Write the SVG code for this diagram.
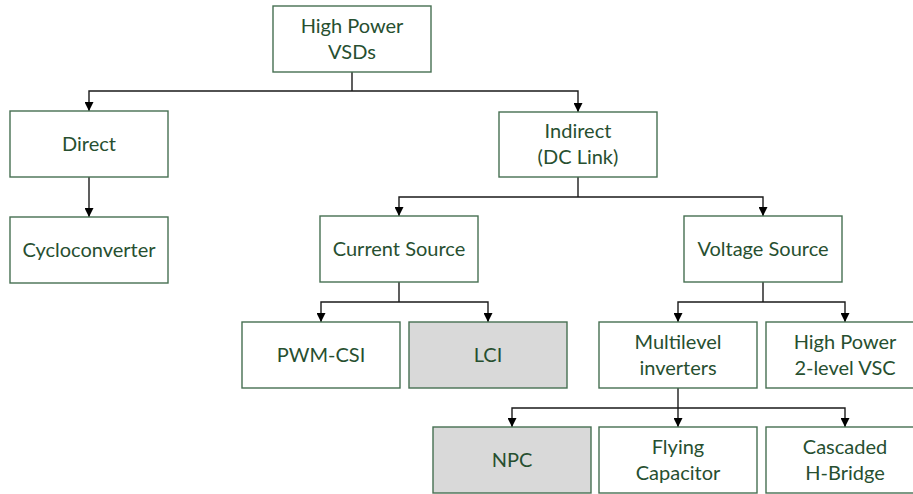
<svg xmlns="http://www.w3.org/2000/svg" width="913" height="494" viewBox="0 0 913 494">
<style>
.box{fill:#ffffff;stroke:#466f52;stroke-width:1.4}
.gray{fill:#d9d9d9}
.t{font-family:Lato,"Liberation Sans",sans-serif;font-size:20px;fill:#274f30;text-anchor:middle}
.c{fill:none;stroke:#1a1a1a;stroke-width:1.4}
</style>
<defs>
<marker id="ah" viewBox="0 0 10 10" refX="10" refY="5" markerWidth="10" markerHeight="9" markerUnits="userSpaceOnUse" orient="auto">
<path d="M0,0 L10,5 L0,10 z" fill="#000"/>
</marker>
</defs>
<rect width="913" height="494" fill="#ffffff"/>
<g id="connectors">
<path class="c" d="M352,72 V91"/>
<path class="c" d="M352,91 H89 V111" marker-end="url(#ah)"/>
<path class="c" d="M352,91 H578 V112" marker-end="url(#ah)"/>
<path class="c" d="M89,177 V217" marker-end="url(#ah)"/>
<path class="c" d="M578,177 V197"/>
<path class="c" d="M578,197 H399 V216" marker-end="url(#ah)"/>
<path class="c" d="M578,197 H763 V216" marker-end="url(#ah)"/>
<path class="c" d="M399,282 V302"/>
<path class="c" d="M399,302 H321 V322" marker-end="url(#ah)"/>
<path class="c" d="M399,302 H488 V322" marker-end="url(#ah)"/>
<path class="c" d="M763,282 V302"/>
<path class="c" d="M763,302 H678 V322" marker-end="url(#ah)"/>
<path class="c" d="M763,302 H845 V322" marker-end="url(#ah)"/>
<path class="c" d="M678,388 V427" marker-end="url(#ah)"/>
<path class="c" d="M678,408 H512 V427" marker-end="url(#ah)"/>
<path class="c" d="M678,408 H845 V427" marker-end="url(#ah)"/>
</g>
<g id="n-vsds"><rect class="box" x="273" y="6" width="158" height="66"/><text class="t" x="352" y="33">High Power</text><text class="t" x="352" y="59">VSDs</text></g>
<g id="n-direct"><rect class="box" x="10" y="111" width="158" height="66"/><text class="t" x="89" y="151">Direct</text></g>
<g id="n-cyclo"><rect class="box" x="10" y="217" width="158" height="66"/><text class="t" x="89" y="257">Cycloconverter</text></g>
<g id="n-indirect"><rect class="box" x="499" y="112" width="158" height="65"/><text class="t" x="578" y="138">Indirect</text><text class="t" x="578" y="164">(DC Link)</text></g>
<g id="n-current"><rect class="box" x="320" y="216" width="158" height="66"/><text class="t" x="399" y="256">Current Source</text></g>
<g id="n-voltage"><rect class="box" x="684" y="216" width="158" height="66"/><text class="t" x="763" y="256">Voltage Source</text></g>
<g id="n-pwmcsi"><rect class="box" x="242" y="322" width="158" height="66"/><text class="t" x="321" y="362">PWM-CSI</text></g>
<g id="n-lci"><rect class="box gray" x="409" y="322" width="158" height="66"/><text class="t" x="488" y="362">LCI</text></g>
<g id="n-multilevel"><rect class="box" x="599" y="322" width="158" height="66"/><text class="t" x="678" y="349">Multilevel</text><text class="t" x="678" y="375">inverters</text></g>
<g id="n-hp2l"><rect class="box" x="766" y="322" width="158" height="66"/><text class="t" x="845" y="349">High Power</text><text class="t" x="845" y="375">2-level VSC</text></g>
<g id="n-npc"><rect class="box gray" x="433" y="427" width="158" height="66"/><text class="t" x="512" y="467">NPC</text></g>
<g id="n-flying"><rect class="box" x="599" y="427" width="158" height="66"/><text class="t" x="678" y="454">Flying</text><text class="t" x="678" y="480">Capacitor</text></g>
<g id="n-cascaded"><rect class="box" x="766" y="427" width="158" height="66"/><text class="t" x="845" y="454">Cascaded</text><text class="t" x="845" y="480">H-Bridge</text></g>
</svg>
